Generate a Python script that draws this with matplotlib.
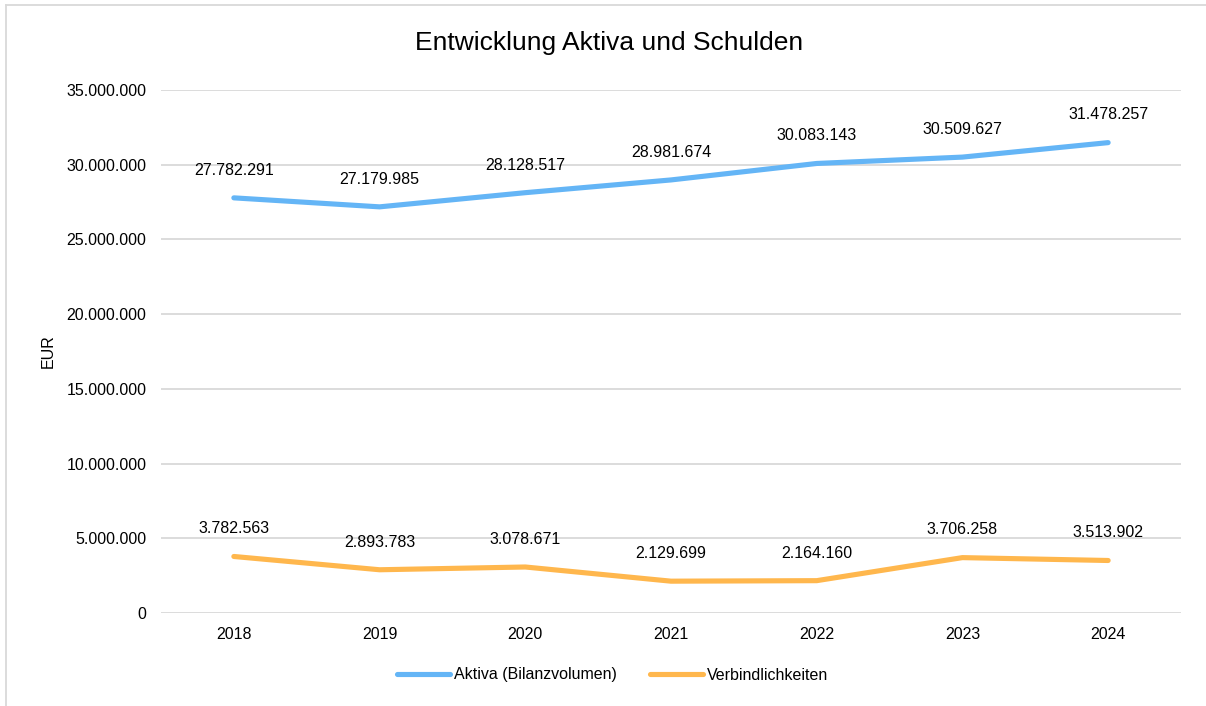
import matplotlib.pyplot as plt
from matplotlib.lines import Line2D

plt.rcParams['font.family'] = ['Liberation Sans', 'DejaVu Sans']

# Data
years = ['2018', '2019', '2020', '2021', '2022', '2023', '2024']
aktiva = [27782291, 27179985, 28128517, 28981674, 30083143, 30509627, 31478257]
schulden = [3782563, 2893783, 3078671, 2129699, 2164160, 3706258, 3513902]
series_names = ['Aktiva (Bilanzvolumen)', 'Verbindlichkeiten']
colors = ['#64B5F6', '#FFB74D']


def fmt_de(v):
    # German thousands separator
    return f"{int(v):,}".replace(',', '.')


fig = plt.figure(figsize=(12.06, 7.06), dpi=100)
ax = fig.add_axes([161 / 1206, 1 - 613 / 706, 1020 / 1206, 523 / 706])

x = list(range(len(years)))
for vals, name, col in zip([aktiva, schulden], series_names, colors):
    ax.plot(x, vals, color=col, lw=3.7, solid_capstyle='round', label=name, zorder=3)
    for xi, v in zip(x, vals):
        ax.annotate(fmt_de(v), (xi, v), xytext=(0, 14.5), textcoords='offset points',
                    ha='center', va='bottom', fontsize=11.5, color='#000000')

ax.set_xlim(-0.5, len(years) - 0.5)
ax.set_ylim(0, 35000000)
ax.set_yticks(range(0, 35000001, 5000000))
ax.set_yticklabels([fmt_de(t) for t in range(0, 35000001, 5000000)], fontsize=11.5)
ax.set_xticks(x)
ax.set_xticklabels(years, fontsize=11.5)
ax.tick_params(axis='y', length=0, pad=10.5)
ax.tick_params(axis='x', length=0, pad=10)
ax.grid(axis='y', color='#D9D9D9', lw=1.3)
ax.set_axisbelow(True)
for s in ax.spines.values():
    s.set_visible(False)

ax.set_ylabel('EUR', fontsize=11.5, labelpad=8)
fig.text(0.505, 1 - 43 / 706, 'Entwicklung Aktiva und Schulden', ha='center', va='center', fontsize=19)

handles = [Line2D([0], [0], color=c, lw=3.7, solid_capstyle='round') for c in colors]
fig.legend(handles, series_names, loc='center', bbox_to_anchor=(0.508, 1 - 675 / 706),
           ncol=2, frameon=False, fontsize=11.5, handlelength=3.3, handletextpad=0.25,
           columnspacing=2.1)

# chart border (top and left visible in the reference)
fig.add_artist(Line2D([6 / 1206, 6 / 1206], [0, 1 - 5 / 706], color='#D9D9D9', lw=1.3,
                      transform=fig.transFigure))
fig.add_artist(Line2D([6 / 1206, 1], [1 - 5 / 706, 1 - 5 / 706], color='#D9D9D9', lw=1.3,
                      transform=fig.transFigure))

plt.savefig('out.png', dpi=100)
